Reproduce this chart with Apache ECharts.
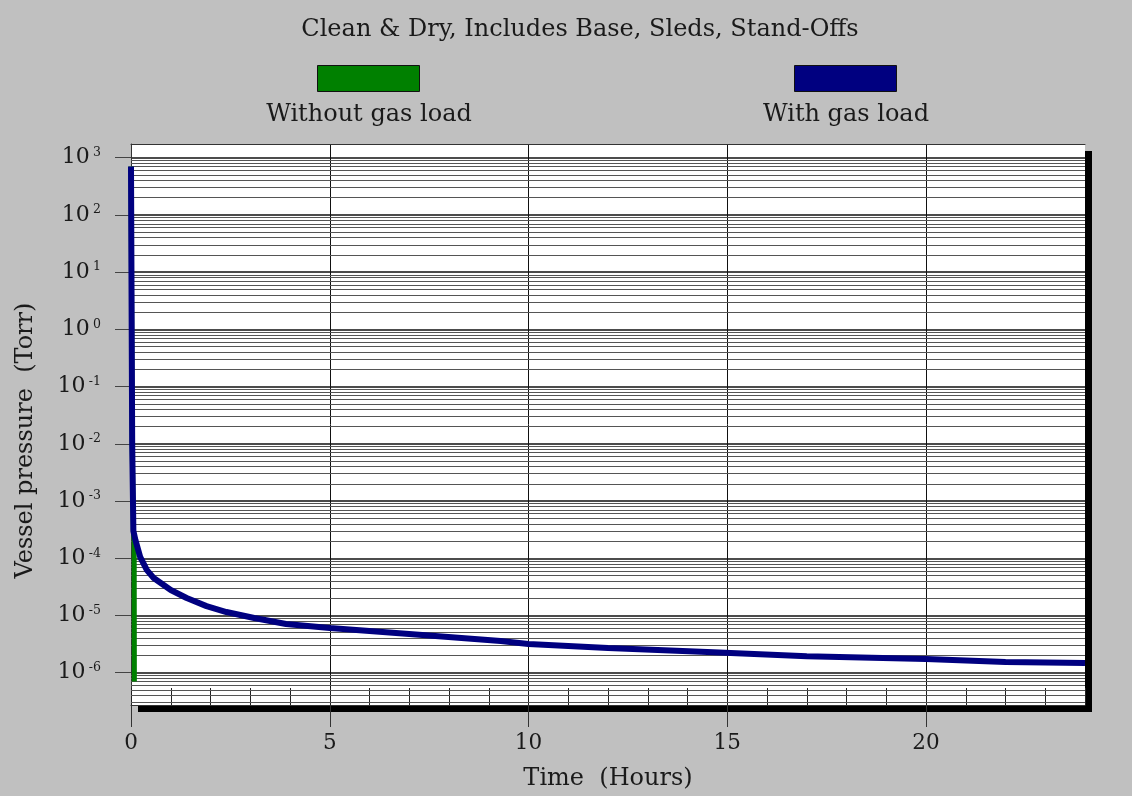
<!DOCTYPE html>
<html>
<head>
<meta charset="utf-8">
<script src="https://cdn.jsdelivr.net/npm/echarts@6/dist/echarts.min.js"></script>
<style>
html,body{margin:0;padding:0;background:#c0c0c0;}
#chart{width:1132px;height:796px;}
</style>
</head>
<body>
<div id="chart"></div>
<script>
// ---- data ----
const titleText = 'Clean & Dry, Includes Base, Sleds, Stand-Offs';
const seriesNames = ['Without gas load', 'With gas load'];
const withTime = [0, 0.03, 0.06, 0.11, 0.23, 0.40, 0.57, 1.0, 1.4, 1.9, 2.4, 3.1, 3.9, 5.0, 7.0, 9.3, 10.0, 12.0, 14.5, 17.0, 20.0, 22.0, 24.0];
const withPressure = [700, 1e-2, 3e-4, 2.1e-4, 1.06e-4, 6.2e-5, 4.52e-5, 2.79e-5, 2.02e-5, 1.46e-5, 1.15e-5, 9.04e-6, 7.1e-6, 6.04e-6, 4.74e-6, 3.58e-6, 3.17e-6, 2.7e-6, 2.3e-6, 1.95e-6, 1.73e-6, 1.54e-6, 1.48e-6];
const withoutTime = [0, 0.03, 0.06, 0.08, 0.085];
const withoutPressure = [700, 1e-2, 3e-4, 2e-4, 7e-7];
const xTicks = [0, 5, 10, 15, 20];
const yDecades = [1e-6, 1e-5, 1e-4, 1e-3, 1e-2, 1e-1, 1e0, 1e1, 1e2, 1e3];
const minorMultipliers = [2, 3, 4, 5, 6, 7, 8, 9];
const xRange = [0, 24];
const yRange = [2.73e-7, 1735];

// ---- build ----
const minorValues = [];
[1e-7].concat(yDecades).forEach(d => {
  minorMultipliers.forEach(m => {
    const v = m * d;
    if (v > yRange[0] && v < yRange[1]) minorValues.push(v);
  });
});
const pair = (xs, ys) => xs.map((x, i) => [x, ys[i]]);
const FONT = 'DejaVu Serif';
const TXT = '#1a1a1a';

const chart = echarts.init(document.getElementById('chart'), null, {renderer: 'canvas'});
chart.setOption({
  backgroundColor: '#c0c0c0',
  animation: false,
  title: [
    {text: titleText, left: 580, top: 30, padding: 0, textAlign: 'center', textVerticalAlign: 'middle',
     textStyle: {fontFamily: FONT, fontSize: 24, fontWeight: 'normal', color: TXT}},
    {text: seriesNames[0], left: 369, top: 115, padding: 0, textAlign: 'center', textVerticalAlign: 'middle',
     textStyle: {fontFamily: FONT, fontSize: 24, fontWeight: 'normal', color: TXT}},
    {text: seriesNames[1], left: 846, top: 115, padding: 0, textAlign: 'center', textVerticalAlign: 'middle',
     textStyle: {fontFamily: FONT, fontSize: 24, fontWeight: 'normal', color: TXT}}
  ],
  legend: [
    {data: [seriesNames[0]], left: 317, top: 65, padding: 0, icon: 'rect', itemWidth: 102, itemHeight: 26,
     formatter: () => '', itemStyle: {borderColor: '#111', borderWidth: 1}, selectedMode: false},
    {data: [seriesNames[1]], left: 794, top: 65, padding: 0, icon: 'rect', itemWidth: 102, itemHeight: 26,
     formatter: () => '', itemStyle: {borderColor: '#111', borderWidth: 1}, selectedMode: false}
  ],
  grid: {
    left: 131, top: 144, width: 954, height: 561,
    show: true, backgroundColor: '#ffffff', borderWidth: 0,
    shadowColor: '#000', shadowBlur: 0, shadowOffsetX: 7, shadowOffsetY: 7
  },
  xAxis: [
    {
      type: 'value', min: xRange[0], max: xRange[1], interval: 5,
      name: 'Time  (Hours)', nameLocation: 'middle', nameGap: 62,
      nameTextStyle: {fontFamily: FONT, fontSize: 24, color: TXT},
      axisLine: {show: true, lineStyle: {color: '#333', width: 1}},
      axisTick: {show: true, length: 22, inside: false, customValues: xTicks, lineStyle: {color: '#333'}},
      axisLabel: {customValues: xTicks, margin: 27, fontFamily: FONT, fontSize: 21.5, color: TXT},
      splitLine: {show: true, lineStyle: {color: '#111', width: 1}}
    },
    {
      type: 'value', min: xRange[0], max: xRange[1], interval: 1, position: 'bottom',
      axisLine: {show: false},
      axisTick: {show: true, inside: true, length: 17, lineStyle: {color: '#222', width: 1}},
      axisLabel: {show: false},
      splitLine: {show: false}
    },
    {
      type: 'value', min: xRange[0], max: xRange[1], position: 'top',
      axisLine: {show: true, lineStyle: {color: '#333', width: 1}},
      axisTick: {show: false}, axisLabel: {show: false}, splitLine: {show: false}
    }
  ],
  yAxis: {
    type: 'log', logBase: 10, min: yRange[0], max: yRange[1],
    name: 'Vessel pressure  (Torr)', nameLocation: 'middle', nameGap: 93,
    nameTextStyle: {fontFamily: FONT, fontSize: 24, color: TXT, padding: [0, 32, 0, 0]},
    axisLine: {show: true, lineStyle: {color: '#333', width: 1}},
    axisTick: {show: true, length: 16, customValues: yDecades, lineStyle: {color: '#444'}},
    axisLabel: {
      customValues: yDecades, margin: 30,
      formatter: v => '{b|10} {s|' + Math.round(Math.log10(v)) + '}',
      rich: {
        b: {fontFamily: FONT, fontSize: 22, color: TXT, lineHeight: 23},
        s: {fontFamily: FONT, fontSize: 12.5, color: TXT, verticalAlign: 'top', lineHeight: 14}
      }
    },
    splitLine: {show: true, lineStyle: {color: '#111', width: 1.5}}
  },
  series: [
    {
      name: seriesNames[0], type: 'line', z: 3, showSymbol: false, symbol: 'none',
      data: pair(withoutTime, withoutPressure),
      color: '#008000', lineStyle: {color: '#008000', width: 5},
      markLine: {
        silent: true, z: 1, precision: 12, symbol: ['none', 'none'], label: {show: false},
        lineStyle: {color: '#555', width: 1, type: 'solid'},
        emphasis: {disabled: true},
        data: minorValues.map(v => ({yAxis: v}))
      }
    },
    {
      name: seriesNames[1], type: 'line', z: 4, showSymbol: false, symbol: 'none',
      data: pair(withTime, withPressure),
      color: '#000080', lineStyle: {color: '#000080', width: 6}
    }
  ]
});
</script>
</body>
</html>
